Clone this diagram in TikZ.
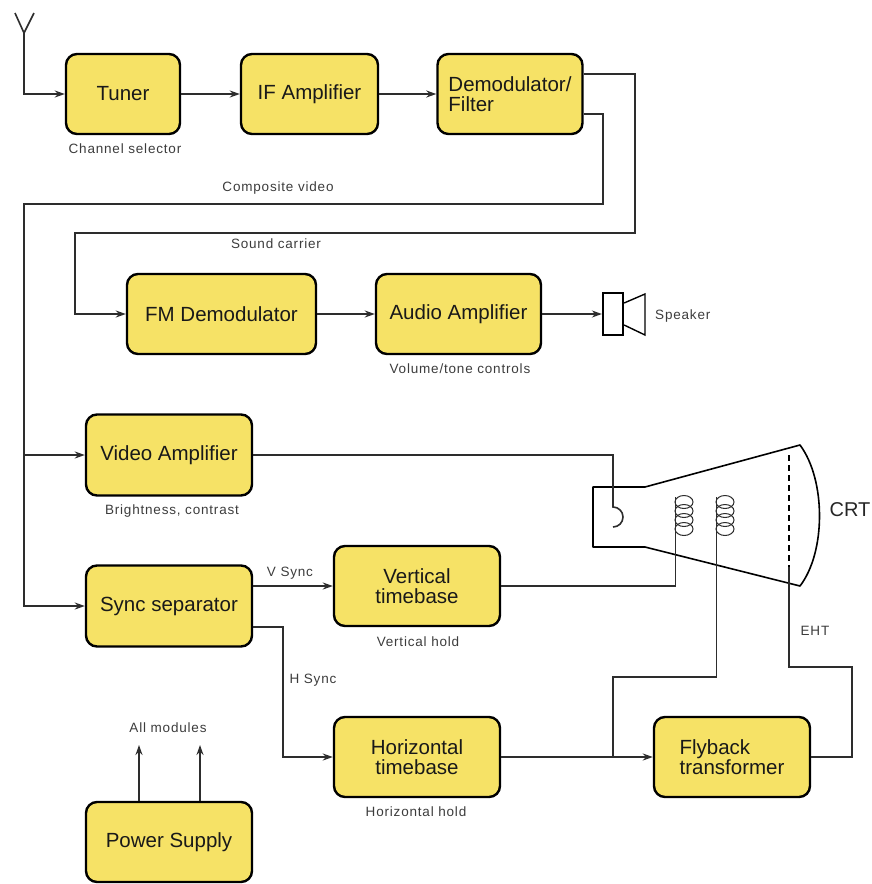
\documentclass[tikz,border=0pt]{standalone}
\usepackage{fontspec}
\setmainfont{Liberation Sans}
\newfontfamily\lblfont[LetterSpace=6]{Liberation Sans}
\usetikzlibrary{arrows.meta}
\definecolor{boxfill}{RGB}{246,226,102}
\definecolor{wire}{RGB}{45,45,45}
\definecolor{lbl}{RGB}{60,60,60}
\begin{document}
\begin{tikzpicture}[x=1pt,y=-1pt,
  box/.style={draw=black, line width=2.4pt, fill=boxfill, rounded corners=11pt,
    minimum height=80pt, inner sep=0pt, align=center, text=black!90,
    font=\fontsize{20.5}{20}\selectfont},
  wirestyle/.style={draw=wire, line width=1.6pt},
  arr/.style={wirestyle, -{Stealth[length=10pt,width=7pt]}},
  lab/.style={font=\lblfont\fontsize{13.5}{14}\selectfont, text=lbl, inner sep=0pt}]
\useasboundingbox (0,0) rectangle (871,884);

% boxes
\node[box, minimum width=114pt] (tuner) at (123,94) {Tuner};
\node[box, minimum width=137pt] (ifamp) at (309.5,94) {IF Amplifier};
\node[box, minimum width=145pt, align=left] (demod) at (510,94) {Demodulator/\\Filter};
\node[box, minimum width=189pt] (fm) at (221.5,314) {FM Demodulator};
\node[box, minimum width=165pt] (audio) at (458.5,314) {Audio Amplifier};
\node[box, minimum width=166pt, minimum height=81pt] (video) at (169,455) {Video Amplifier};
\node[box, minimum width=166pt, minimum height=81pt] (sync) at (169,606) {Sync separator};
\node[box, minimum width=166pt] (vtb) at (417,586) {Vertical\\timebase};
\node[box, minimum width=166pt] (htb) at (417,757) {Horizontal\\timebase};
\node[box, minimum width=156pt, align=left] (fly) at (732,757) {Flyback\\transformer};
\node[box, minimum width=166pt] (ps) at (169,842) {Power Supply};

% speaker
\node[draw=black, line width=2.2pt, minimum width=20pt, minimum height=42pt, inner sep=0pt] (spk) at (613,314) {};
\draw[line width=1.4pt] (spk.east |- 0,303) -- (645,294) -- (645,335) -- (spk.east |- 0,325);

% antenna
\coordinate (ant) at (24,33);
\draw[wirestyle] (15,13) -- (ant) -- (34,13);
\draw[arr] (ant) |- (tuner.west);

% top row
\draw[arr] (tuner) -- (ifamp);
\draw[arr] (ifamp) -- (demod);

% sound carrier
\draw[arr] (demod.east |- 0,74) -| (635,233) -- (75,233) |- (fm.west);
% composite video
\draw[arr] (demod.east |- 0,114) -| (603,204) -- (24,204) |- (sync.west);
\draw[arr] (video.west -| 24,0) -- (video.west);

\draw[arr] (fm) -- (audio);
\draw[arr] (audio) -- (spk);

% CRT
\draw[line width=1.6pt, line join=round] (593,487) -- (645,487) -- (800,445)
   .. controls (826,480) and (826,552) .. (800,586) -- (645,547) -- (593,547) -- cycle;
\draw[line width=1.6pt, dashed, dash pattern=on 6pt off 4pt] (789,455) -- (789,567);
\draw[wirestyle] (video.east) -| (613,507) arc(-90:90:10);
% coils
\foreach \cx in {684,725}{
  \foreach \cy in {502,511,520,529}{
    \draw[line width=1pt, draw=wire] (\cx,\cy) ellipse (9 and 6.5);
  }
}
\draw[wirestyle] (vtb.east) -| (675.5,497);
\draw[wirestyle] (716.5,497) |- (613,677) -- (613,757);

% sync
\draw[arr] (sync.east |- vtb.west) -- (vtb.west);
\draw[arr] (sync.east |- 0,627) -- (283,627) |- (htb.west);
\draw[arr] (htb) -- (fly);
\draw[wirestyle] (fly.east) -| (852,667) -| (789,567);

% power
\coordinate (am1) at (139,745);
\coordinate (am2) at (200,745);
\draw[arr] (ps.north -| am1) -- (am1);
\draw[arr] (ps.north -| am2) -- (am2);

% labels
\node[lab] (l1) at (125,149) {Channel selector};
\node[lab] (l2) at (278,188) {Composite video};
\node[lab] (l3) at (276,244) {Sound carrier};
\node[lab, anchor=west] (l4) at (655,316) {Speaker};
\node[lab] (l5) at (460,369) {Volume/tone controls};
\node[lab] (l6) at (172,511) {Brightness, contrast};
\node[lab] (l7) at (290,573) {V Sync};
\node[lab] (l8) at (418,642) {Vertical hold};
\node[lab] (l9) at (313,680) {H Sync};
\node[lab] (l10) at (168,728) {All modules};
\node[lab] (l11) at (416,812) {Horizontal hold};
\node[lab] (l12) at (815,631) {EHT};
\node[font=\fontsize{20}{20}\selectfont, text=black!85, inner sep=0pt] (crt) at (850,510) {CRT};
\end{tikzpicture}
\end{document}
